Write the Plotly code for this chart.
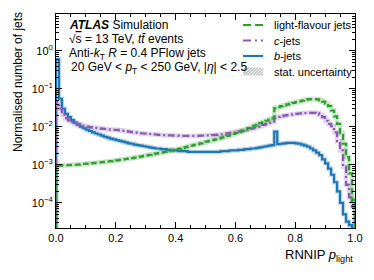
import plotly.graph_objects as go

bin_edges = [i / 100 for i in range(101)]

b_jets = [0.6, 0.055, 0.03, 0.022, 0.018, 0.015, 0.013, 0.0115, 0.0102, 0.0092,
          0.0084, 0.0078, 0.0072, 0.0067, 0.0063, 0.0059, 0.0055, 0.0052, 0.0049, 0.0047,
          0.0045, 0.0043, 0.0041, 0.0039, 0.0037, 0.0036, 0.0034, 0.0033, 0.0032, 0.0031,
          0.0030, 0.0029, 0.0028, 0.0027, 0.0027, 0.0026, 0.0026, 0.0025, 0.0025, 0.0024,
          0.0024, 0.0023, 0.0023, 0.0023, 0.0022, 0.0022, 0.0022, 0.0022, 0.0022, 0.0022,
          0.0022, 0.0022, 0.0022, 0.0022, 0.0022, 0.0023, 0.0023, 0.0023, 0.0024, 0.0024,
          0.0024, 0.0025, 0.0025, 0.0026, 0.0026, 0.0027, 0.0027, 0.0028, 0.0029, 0.0030,
          0.0031, 0.0032, 0.0033, 0.0075, 0.0035, 0.0036, 0.0037, 0.0038, 0.0038, 0.0038,
          0.0037, 0.0036, 0.0034, 0.0032, 0.0030, 0.0027, 0.0024, 0.0021, 0.0018, 0.0014,
          0.0011, 0.0008, 0.00055, 0.00035, 0.0002, 0.0001, 5e-5, 3.2e-5, 2.6e-5, 1e-5]

c_jets = [0.045, 0.03, 0.021, 0.017, 0.0148, 0.0135, 0.0125, 0.0117, 0.0111, 0.0106,
          0.0102, 0.0099, 0.0096, 0.0094, 0.0092, 0.009, 0.0088, 0.0086, 0.0085, 0.0084,
          0.0083, 0.0081, 0.0079, 0.0077, 0.0075, 0.0073, 0.0071, 0.0069, 0.0068, 0.0067,
          0.0066, 0.0065, 0.0064, 0.0063, 0.0062, 0.0061, 0.0061, 0.006, 0.006, 0.0059,
          0.0059, 0.0058, 0.0058, 0.0058, 0.0058, 0.0058, 0.0058, 0.0058, 0.0059, 0.0059,
          0.006, 0.006, 0.0061, 0.0062, 0.0063, 0.0064, 0.0066, 0.0068, 0.007, 0.0072,
          0.0074, 0.0076, 0.0079, 0.0082, 0.0086, 0.009, 0.0095, 0.01, 0.0106, 0.0113,
          0.012, 0.0128, 0.0137, 0.0175, 0.0183, 0.019, 0.0197, 0.0204, 0.021, 0.0216,
          0.022, 0.0225, 0.0229, 0.0232, 0.0234, 0.0235, 0.0234, 0.0231, 0.021, 0.018,
          0.0145, 0.012, 0.0105, 0.0072, 0.0042, 0.0024, 0.0009, 0.0003, 0.00014, 0.00008]

light_jets = [0.00095, 0.00096, 0.00097, 0.00098, 0.00099, 0.0010, 0.00101, 0.00102, 0.00104, 0.00106,
              0.00108, 0.0011, 0.00112, 0.00114, 0.00116, 0.00118, 0.0012, 0.00123, 0.00126, 0.00129,
              0.00132, 0.00135, 0.00139, 0.00143, 0.00147, 0.00151, 0.00156, 0.00161, 0.00166, 0.00172,
              0.00178, 0.00184, 0.0019, 0.00197, 0.00204, 0.00211, 0.00219, 0.00227, 0.00236, 0.00245,
              0.00255, 0.00267, 0.0028, 0.00294, 0.00308, 0.00322, 0.00337, 0.00353, 0.0037, 0.0039,
              0.0041, 0.0043, 0.0045, 0.0047, 0.0049, 0.0052, 0.0055, 0.0058, 0.0061, 0.0065,
              0.0069, 0.0074, 0.008, 0.0086, 0.0093, 0.01, 0.0108, 0.0116, 0.0125, 0.0134,
              0.0145, 0.0156, 0.0168, 0.031, 0.033, 0.035, 0.037, 0.039, 0.041, 0.043,
              0.045, 0.047, 0.049, 0.051, 0.053, 0.054, 0.054, 0.053, 0.05, 0.046,
              0.041, 0.035, 0.027, 0.019, 0.012, 0.0068, 0.0036, 0.0016, 0.0006, 0.00012]

legend_labels = ["light-flavour jets", "<i>c</i>-jets", "<i>b</i>-jets", "stat. uncertainty"]

y_tickvals = [1e-4, 1e-3, 1e-2, 1e-1, 1]
y_ticktext = ["10<sup>\u22124</sup>", "10<sup>\u22123</sup>", "10<sup>\u22122</sup>",
              "10<sup>\u22121</sup>", "10<sup>0</sup>"]

FLOOR = 1e-7
OFF = 8  # page body margin
L, R, T, B = 56 - OFF, 355 - OFF, 14 - OFF, 228 - OFF  # plot area in figure pixels
W, H = 374 - OFF, 280 - OFF


def px_x(p):
    return (p - OFF - L) / (R - L)


def px_y(p):
    return (B - (p - OFF)) / (B - T)


def step_xy(values):
    xs = [bin_edges[0]] + bin_edges[:-1] + [bin_edges[-1], bin_edges[-1]]
    ys = [FLOOR] + list(values) + [values[-1], FLOOR]
    return xs, ys


FONT = "Liberation Sans, Arial, Helvetica, sans-serif"
fig = go.Figure()

GREEN, PURPLE, BLUE = "#2ca02c", "#8a5bb3", "#1f77b4"
GDASH, PDASH = "6px,3px", "7px,3px,2px,3px"
series = [
    (b_jets, BLUE, "solid"),
    (c_jets, PURPLE, PDASH),
    (light_jets, GREEN, GDASH),
]
for vals, col, dash in series:
    xs, ys = step_xy(vals)
    fig.add_trace(go.Scatter(x=xs, y=ys, mode="lines", line_shape="hv",
                             line=dict(color=col, width=4.5), opacity=0.25,
                             showlegend=False, hoverinfo="skip"))
for vals, col, dash in series:
    xs, ys = step_xy(vals)
    fig.add_trace(go.Scatter(x=xs, y=ys, mode="lines", line_shape="hv",
                             line=dict(color=col, width=2.2, dash=dash), showlegend=False))

minor_y = [k * 10 ** e for e in range(-5, 1) for k in range(2, 10)]

fig.update_layout(
    width=W, height=H,
    margin=dict(l=L, r=W - R, t=T, b=H - B),
    paper_bgcolor="white", plot_bgcolor="white",
    font=dict(family=FONT, size=11, color="black"),
    showlegend=False,
    xaxis=dict(range=[0, 1], automargin=False, showgrid=False, zeroline=False, showline=True,
               linecolor="black", linewidth=1, mirror="allticks", ticks="inside", ticklen=6,
               tickcolor="black", tickvals=[0, 0.2, 0.4, 0.6, 0.8, 1.0],
               ticktext=["0.0", "0.2", "0.4", "0.6", "0.8", "1.0"],
               minor=dict(ticks="inside", ticklen=3, dtick=0.05, tick0=0, tickcolor="black", showgrid=False),
               tickfont=dict(size=11)),
    yaxis=dict(type="log", range=[-4.66, 0.97], automargin=False, showgrid=False, zeroline=False,
               showline=True, linecolor="black", linewidth=1, mirror="allticks", ticks="inside",
               ticklen=6, tickcolor="black", tickvals=y_tickvals, ticktext=y_ticktext,
               minor=dict(ticks="inside", ticklen=3, tickvals=minor_y, tickcolor="black", showgrid=False),
               tickfont=dict(size=11)),
)

# legend (drawn manually for compact rows); positions in page pixels
rows = [25, 40.5, 56, 71.5]
sx0, sx1, tx = 243, 263, 272
legend_dashes = ["8px,4px", "8px,4px,2px,4px", "solid"]
for lbl, ry in zip(legend_labels, rows):
    fig.add_annotation(xref="paper", yref="paper", x=px_x(tx), y=px_y(ry), xanchor="left",
                       yanchor="middle", showarrow=False, text=lbl, font=dict(size=11))
for (vals, col, dash), ld, ry in zip([series[2], series[1], series[0]], legend_dashes, rows[:3]):
    fig.add_shape(type="line", xref="paper", yref="paper", x0=px_x(sx0), x1=px_x(sx1),
                  y0=px_y(ry), y1=px_y(ry), line=dict(color=col, width=2.2, dash=ld))
hy0, hy1 = rows[3] - 4, rows[3] + 4
path = ""
for k in range(-8, 21, 3):
    xa, xb = sx0 + k, sx0 + k + 8
    ya, yb = hy1, hy0
    if xa < sx0:
        ya = hy1 - (sx0 - xa); xa = sx0
    if xb > sx1:
        yb = hy0 + (xb - sx1); xb = sx1
    if xa < xb:
        path += f"M{px_x(xa):.4f},{px_y(ya):.4f} L{px_x(xb):.4f},{px_y(yb):.4f} "
fig.add_shape(type="path", xref="paper", yref="paper", path=path,
              line=dict(color="#888", width=1))

ann = [
    (67, 25, "<b><i>ATLAS</i></b> Simulation"),
    (67, 39.5, "\u221a<span style='text-decoration:overline'>s</span> = 13 TeV, <i>tt\u0304</i> events"),
    (67, 54, "Anti-<i>k</i><sub>T</sub> <i>R</i> = 0.4 PFlow jets"),
    (69, 68.5, "20 GeV &lt; <i>p</i><sub>T</sub> &lt; 250 GeV, |<i>\u03b7</i>| &lt; 2.5"),
]
for px, py, t in ann:
    fig.add_annotation(xref="paper", yref="paper", x=px_x(px), y=px_y(py),
                       xanchor="left", yanchor="middle", showarrow=False, text=t,
                       font=dict(size=12))

fig.add_annotation(xref="paper", yref="paper", x=1.0, y=px_y(255), xanchor="right",
                   yanchor="middle", showarrow=False, text="RNNIP <i>p</i><sub>light</sub>",
                   font=dict(size=13))
fig.add_annotation(xref="paper", yref="paper", x=px_x(18), y=px_y(10),
                   xanchor="center", yanchor="top", textangle=-90, showarrow=False,
                   text="Normalised number of jets", font=dict(size=12))

fig.write_html("out.html")
